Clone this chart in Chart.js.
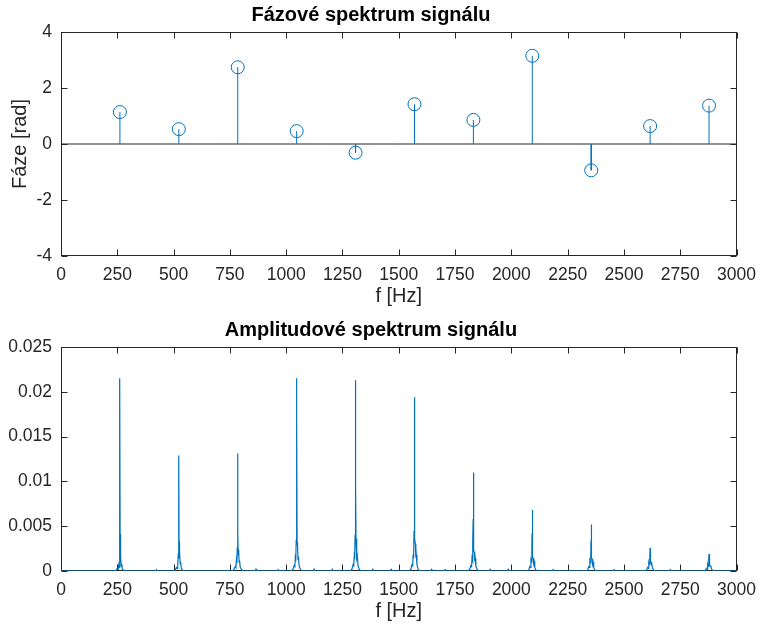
<!DOCTYPE html>
<html>
<head>
<meta charset="utf-8">
<script src="https://cdn.jsdelivr.net/npm/chart.js@4.4.0/dist/chart.umd.min.js"></script>
<style>
  html, body { margin: 0; padding: 0; background: #fff; }
  #wrap { position: relative; width: 765px; height: 630px; }
  canvas { position: absolute; left: 0; }
  #phaseChart { top: 0; }
  #ampChart { top: 315px; }
</style>
</head>
<body>
<div id="wrap">
  <canvas id="phaseChart" width="765" height="315"></canvas>
  <canvas id="ampChart" width="765" height="315"></canvas>
</div>
<script>
// harmonics of the tone (Hz) and their phase (rad)
const harmonicFreqs = [261.6, 523.3, 784.9, 1046.5, 1308.1, 1569.8, 1831.4, 2093.0, 2354.7, 2616.3, 2877.9];
const phaseValues = [1.14, 0.53, 2.74, 0.46, -0.31, 1.42, 0.86, 3.15, -0.94, 0.64, 1.37];

// tick labels
const freqTicks = [0, 250, 500, 750, 1000, 1250, 1500, 1750, 2000, 2250, 2500, 2750, 3000];
const phaseTicks = [-4, -2, 0, 2, 4];
const ampTicks = [0, 0.005, 0.01, 0.015, 0.02, 0.025];

// amplitude spectrum (one line per harmonic)
const ampFreq = [
  0, 150,
  237.6, 245.6, 250.6, 253.6, 255.6, 257.6, 259.6, 260.6, 261.6, 262.6, 263.6, 265.6, 267.6, 269.6, 272.6, 277.6, 285.6,
  420, 424, 428,
  499.3, 507.3, 512.3, 515.3, 517.3, 519.3, 521.3, 522.3, 523.3, 524.3, 525.3, 527.3, 529.3, 531.3, 534.3, 539.3, 547.3,
  760.9, 768.9, 773.9, 776.9, 778.9, 780.9, 782.9, 783.9, 784.9, 785.9, 786.9, 788.9, 790.9, 792.9, 795.9, 800.9, 808.9,
  862, 866, 870, 960, 964, 968,
  1022.5, 1030.5, 1035.5, 1038.5, 1040.5, 1042.5, 1044.5, 1045.5, 1046.5, 1047.5, 1048.5, 1050.5, 1052.5, 1054.5, 1057.5, 1062.5, 1070.5,
  1120, 1124, 1128, 1200, 1205, 1210,
  1284.1, 1292.1, 1297.1, 1300.1, 1302.1, 1304.1, 1306.1, 1307.1, 1308.1, 1309.1, 1310.1, 1312.1, 1314.1, 1316.1, 1319.1, 1324.1, 1332.1,
  1380, 1385, 1390, 1460, 1466, 1472,
  1545.8, 1553.8, 1558.8, 1561.8, 1563.8, 1565.8, 1567.8, 1568.8, 1569.8, 1570.8, 1571.8, 1573.8, 1575.8, 1577.8, 1580.8, 1585.8, 1593.8,
  1640, 1646, 1652, 1700, 1706, 1712,
  1807.4, 1815.4, 1820.4, 1823.4, 1825.4, 1827.4, 1829.4, 1830.4, 1831.4, 1832.4, 1833.4, 1835.4, 1837.4, 1839.4, 1842.4, 1847.4, 1855.4,
  1900, 1906, 1912, 1980, 1986, 1992,
  2069, 2077, 2082, 2085, 2087, 2089, 2091, 2092, 2093, 2094, 2095, 2097, 2099, 2101, 2104, 2109, 2117,
  2180, 2186, 2192,
  2330.7, 2338.7, 2343.7, 2346.7, 2348.7, 2350.7, 2352.7, 2353.7, 2354.7, 2355.7, 2356.7, 2358.7, 2360.7, 2362.7, 2365.7, 2370.7, 2378.7,
  2450, 2456, 2462,
  2592.3, 2600.3, 2605.3, 2608.3, 2610.3, 2612.3, 2614.3, 2615.3, 2616.3, 2617.3, 2618.3, 2620.3, 2622.3, 2624.3, 2627.3, 2632.3, 2640.3,
  2700, 2706, 2712,
  2853.9, 2861.9, 2866.9, 2869.9, 2871.9, 2873.9, 2875.9, 2876.9, 2877.9, 2878.9, 2879.9, 2881.9, 2883.9, 2885.9, 2888.9, 2893.9, 2901.9,
  2950, 3000
];
const ampValue = [
  0, 0,
  0, 0.0001, 0.0003, 0.0002, 0.0006, 0.0004, 0.0011, 0.0008, 0.0215, 0.0041, 0.0010, 0.0016, 0.0005, 0.0008, 0.0002, 0.0001, 0,
  0, 0.00015, 0,
  0, 0.0001, 0.0004, 0.0003, 0.0009, 0.0006, 0.0020, 0.0014, 0.0129, 0.0033, 0.0017, 0.0022, 0.0008, 0.0010, 0.0003, 0.0001, 0,
  0, 0.0002, 0.0005, 0.0004, 0.0012, 0.0009, 0.0026, 0.0079, 0.0131, 0.0045, 0.0018, 0.0024, 0.0010, 0.0012, 0.0004, 0.0002, 0,
  0, 0.0002, 0, 0, 0.00015, 0,
  0, 0.0002, 0.0006, 0.0005, 0.0014, 0.0011, 0.0034, 0.0073, 0.0215, 0.0168, 0.0032, 0.0028, 0.0013, 0.0016, 0.0006, 0.0002, 0,
  0, 0.0002, 0, 0, 0.0002, 0,
  0, 0.0002, 0.0007, 0.0006, 0.0016, 0.0013, 0.0040, 0.0063, 0.0213, 0.0096, 0.0036, 0.0028, 0.0014, 0.0017, 0.0006, 0.0002, 0,
  0, 0.0002, 0, 0, 0.0002, 0,
  0, 0.0002, 0.0007, 0.0006, 0.0018, 0.0014, 0.0045, 0.0130, 0.0194, 0.0072, 0.0036, 0.0030, 0.0015, 0.0018, 0.0007, 0.0002, 0,
  0, 0.0002, 0, 0, 0.00015, 0,
  0, 0.0002, 0.0006, 0.0005, 0.0015, 0.0012, 0.0032, 0.0058, 0.0110, 0.0042, 0.0023, 0.0021, 0.0011, 0.0014, 0.0005, 0.0002, 0,
  0, 0.0002, 0, 0, 0.0002, 0,
  0, 0.0001, 0.0005, 0.0004, 0.0012, 0.0010, 0.0026, 0.0042, 0.0068, 0.0029, 0.0016, 0.0014, 0.0009, 0.0011, 0.0004, 0.0001, 0,
  0, 0.00015, 0,
  0, 0.0001, 0.0005, 0.0004, 0.0011, 0.0009, 0.0017, 0.0034, 0.0052, 0.0028, 0.0015, 0.0013, 0.0008, 0.0010, 0.0004, 0.0001, 0,
  0, 0.00015, 0,
  0, 0.0001, 0.0004, 0.0003, 0.0009, 0.0007, 0.0012, 0.0017, 0.0026, 0.0016, 0.0011, 0.0010, 0.0006, 0.0008, 0.0003, 0.0001, 0,
  0, 0.00015, 0,
  0, 0.0001, 0.0003, 0.0002, 0.0007, 0.0005, 0.0010, 0.0014, 0.0019, 0.0012, 0.0009, 0.0007, 0.0005, 0.0006, 0.0002, 0.0001, 0,
  0, 0
];

const BLUE = '#0072BD';
const AXIS = '#262626';
const FONT = '"Liberation Sans", Arial, Helvetica, sans-serif';

Chart.defaults.font.family = FONT;
Chart.defaults.color = AXIS;

// MATLAB style box with inward tick marks, drawn under the data
const matlabBox = {
  id: 'matlabBox',
  beforeDatasetsDraw(chart) {
    const { ctx, chartArea: a, scales: { x, y } } = chart;
    const l = Math.round(a.left) + 0.5, r = Math.round(a.right) - 0.5;
    const t = Math.round(a.top) + 0.5, b = Math.round(a.bottom) - 0.5;
    ctx.save();
    ctx.strokeStyle = AXIS;
    ctx.lineWidth = 1;
    ctx.beginPath();
    x.ticks.forEach(tk => {
      const px = Math.round(x.getPixelForValue(tk.value)) + 0.5;
      ctx.moveTo(px, b); ctx.lineTo(px, b - 6);
      ctx.moveTo(px, t); ctx.lineTo(px, t + 6);
    });
    y.ticks.forEach(tk => {
      const py = Math.round(y.getPixelForValue(tk.value)) + 0.5;
      ctx.moveTo(l, py); ctx.lineTo(l + 6, py);
      ctx.moveTo(r, py); ctx.lineTo(r - 6, py);
    });
    ctx.stroke();
    ctx.strokeRect(l, t, r - l, b - t);
    ctx.restore();
  }
};

function xAxis() {
  return {
    type: 'linear',
    min: 0,
    max: 3000,
    grid: { display: false, drawTicks: false },
    border: { display: false },
    afterBuildTicks: s => { s.ticks = freqTicks.map(v => ({ value: v })); },
    afterFit: s => { s.height = 59; },
    ticks: {
      padding: 9,
      maxRotation: 0,
      autoSkip: false,
      font: { size: 17.5 },
      callback: v => String(v)
    },
    title: {
      display: true,
      text: 'f [Hz]',
      font: { size: 20 },
      padding: { top: 0, bottom: 7 }
    }
  };
}

function titleOpts(text) {
  return {
    display: true,
    text: text,
    font: { size: 20, weight: 'bold' },
    color: '#000',
    padding: { top: 3, bottom: 5 }
  };
}

// phase spectrum (stem plot)
const stemData = harmonicFreqs.flatMap((f, i) => [
  { x: f, y: 0 }, { x: f, y: phaseValues[i] }, { x: f, y: null }
]);
const markerData = harmonicFreqs.map((f, i) => ({ x: f, y: phaseValues[i] }));

new Chart(document.getElementById('phaseChart'), {
  type: 'line',
  data: {
    datasets: [
      {
        data: [{ x: 0, y: 0 }, { x: 3000, y: 0 }],
        borderColor: AXIS,
        borderWidth: 1,
        pointRadius: 0,
        order: 3
      },
      {
        data: stemData,
        borderColor: BLUE,
        borderWidth: 1,
        pointRadius: 0,
        spanGaps: false,
        order: 2
      },
      {
        type: 'scatter',
        data: markerData,
        showLine: false,
        pointStyle: 'circle',
        pointRadius: 6.5,
        borderColor: BLUE,
        backgroundColor: 'rgba(0,0,0,0)',
        pointBorderWidth: 1,
        order: 1
      }
    ]
  },
  options: {
    responsive: false,
    animation: false,
    devicePixelRatio: 1,
    layout: { padding: { left: 0, right: 23, top: 0, bottom: 0 } },
    plugins: {
      legend: { display: false },
      tooltip: { enabled: false },
      title: titleOpts('Fázové spektrum signálu')
    },
    scales: {
      x: xAxis(),
      y: {
        type: 'linear',
        min: -4,
        max: 4,
        grid: { display: false, drawTicks: false },
        border: { display: false },
        afterBuildTicks: s => { s.ticks = phaseTicks.map(v => ({ value: v })); },
        afterFit: s => { s.width = 61; },
        ticks: { padding: 9, font: { size: 17.5 }, callback: v => String(v) },
        title: {
          display: true,
          text: 'Fáze [rad]',
          font: { size: 20 },
          padding: { top: 8, bottom: 0 }
        }
      }
    }
  },
  plugins: [matlabBox]
});

// amplitude spectrum
const ampData = ampFreq.map((f, i) => ({ x: f, y: ampValue[i] }));

new Chart(document.getElementById('ampChart'), {
  type: 'line',
  data: {
    datasets: [
      {
        data: ampData,
        borderColor: BLUE,
        borderWidth: 1.2,
        pointRadius: 0,
        tension: 0
      }
    ]
  },
  options: {
    responsive: false,
    animation: false,
    devicePixelRatio: 1,
    layout: { padding: { left: 0, right: 23, top: 0, bottom: 0 } },
    plugins: {
      legend: { display: false },
      tooltip: { enabled: false },
      title: titleOpts('Amplitudové spektrum signálu')
    },
    scales: {
      x: xAxis(),
      y: {
        type: 'linear',
        min: 0,
        max: 0.025,
        grid: { display: false, drawTicks: false },
        border: { display: false },
        afterBuildTicks: s => { s.ticks = ampTicks.map(v => ({ value: v })); },
        afterFit: s => { s.width = 61; },
        ticks: { padding: 9, font: { size: 17.5 }, callback: v => String(Number(v.toFixed(4))) }
      }
    }
  },
  plugins: [matlabBox]
});
</script>
</body>
</html>
